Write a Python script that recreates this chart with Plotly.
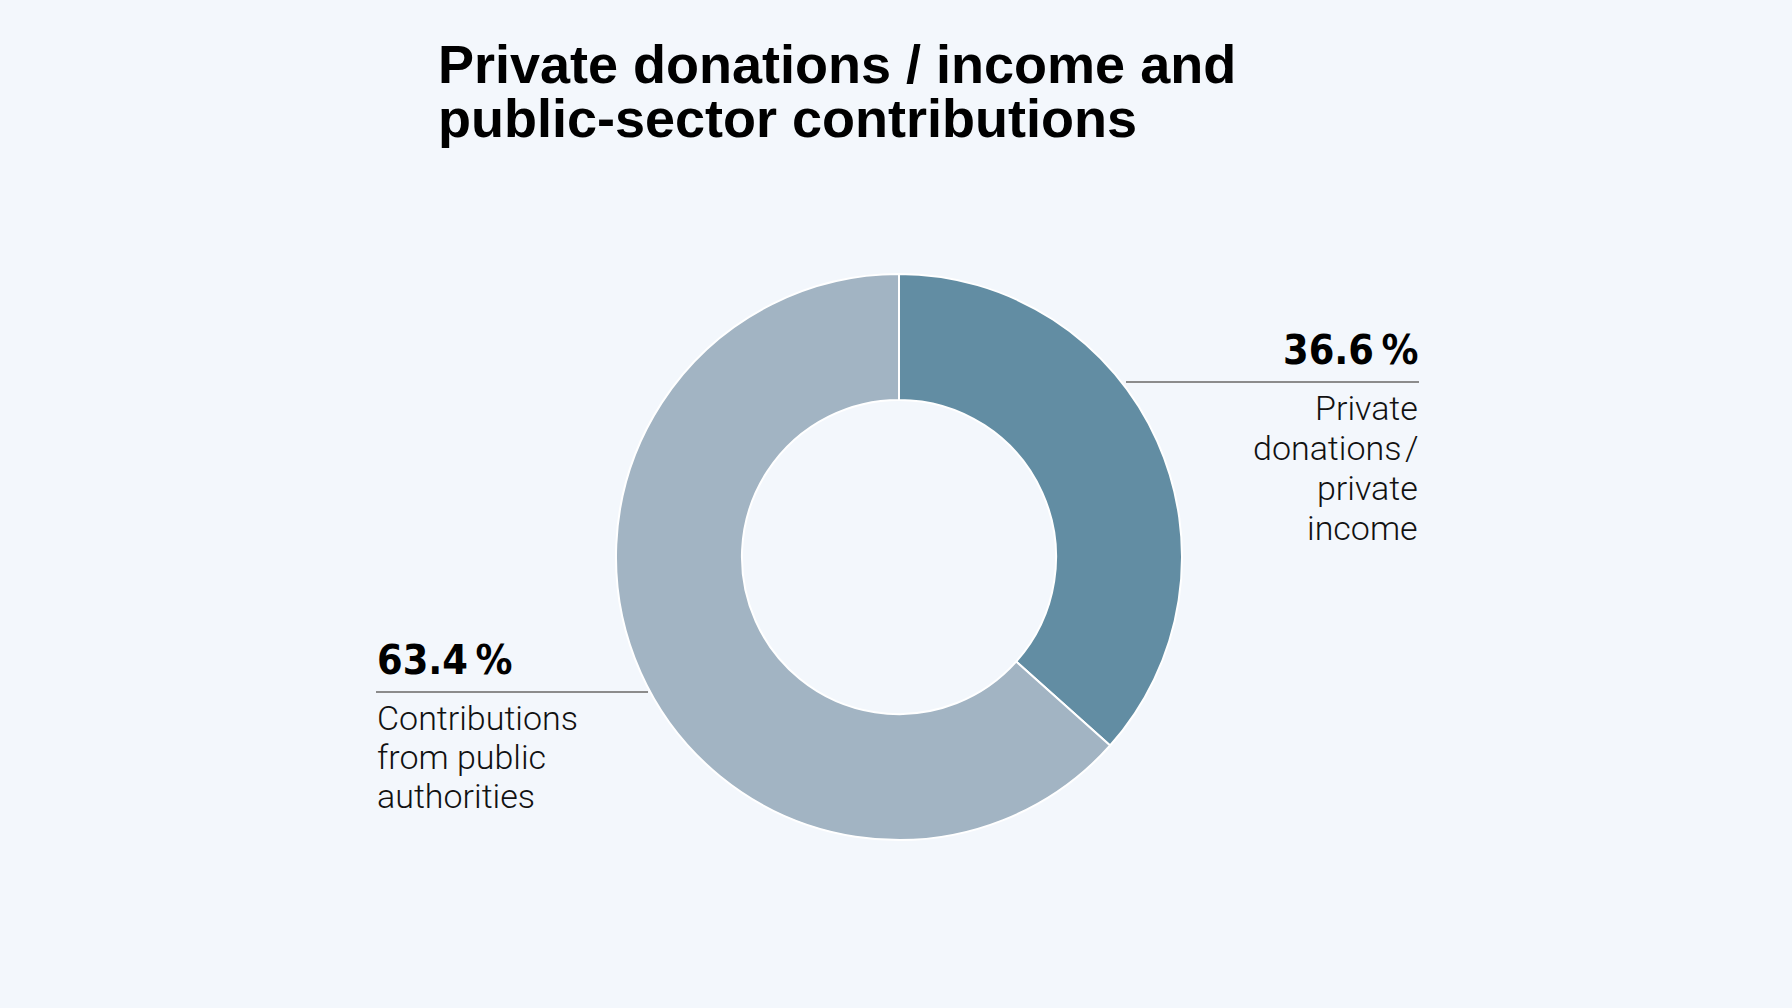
import plotly.graph_objects as go

# ---- data ----
categories = ["Private donations / private income", "Contributions from public authorities"]
shares = [36.6, 63.4]
slice_colors = ["#628DA3", "#A2B4C3"]
title_lines = ["Private donations / income and", "public-sector contributions"]
right_desc = ["Private", "donations\u200a/", "private", "income"]
left_desc = ["Contributions", "from public", "authorities"]

W, H = 1792, 1008
BG = "#F3F7FC"


def px(x):
    return x / W


def py(y):
    return 1 - y / H


cx, cy, r = 899, 557, 283

fig = go.Figure(
    go.Pie(
        labels=categories,
        values=shares,
        sort=False,
        direction="clockwise",
        rotation=0,
        hole=0.555,
        marker=dict(colors=slice_colors, line=dict(color="white", width=2)),
        textinfo="none",
        hoverinfo="skip",
        showlegend=False,
        domain=dict(x=[px(cx - r), px(cx + r)], y=[py(cy + r), py(cy - r)]),
    )
)

annotations = []
TITLE_FONT = dict(family="Liberation Sans, Arial, sans-serif", size=54, color="#000000", weight="bold")
for i, line in enumerate(title_lines):
    base = [83, 137][i]
    annotations.append(dict(text=line, x=px(437), y=py(base - 0.3465 * 54), xref="paper", yref="paper",
                            xanchor="left", yanchor="middle", showarrow=False, borderpad=0, font=TITLE_FONT))

PS = 41
PCT_FONT = dict(family="DejaVu Sans Condensed, Liberation Sans Narrow, Arial Narrow, sans-serif",
                size=PS, color="#000000", weight="bold")
DS = 34
DESC_FONT = dict(family="Roboto, Helvetica Neue, Arial, sans-serif", size=DS, color="#111111", weight=300)

# right block (first slice)
annotations.append(dict(text=f"{shares[0]:.1f}\u2009%", x=px(1419), y=py(365 - 0.36 * PS), xref="paper", yref="paper",
                        xanchor="right", yanchor="middle", showarrow=False, borderpad=0, font=PCT_FONT))
for i, line in enumerate(right_desc):
    base = 420 + 40 * i
    annotations.append(dict(text=line, x=px(1419), y=py(base - 0.342 * DS), xref="paper", yref="paper",
                            xanchor="right", yanchor="middle", showarrow=False, borderpad=0, font=DESC_FONT))

# left block (second slice)
annotations.append(dict(text=f"{shares[1]:.1f}\u2009%", x=px(376), y=py(675 - 0.36 * PS), xref="paper", yref="paper",
                        xanchor="left", yanchor="middle", showarrow=False, borderpad=0, font=PCT_FONT))
for i, line in enumerate(left_desc):
    base = 730 + 39 * i
    annotations.append(dict(text=line, x=px(376), y=py(base - 0.342 * DS), xref="paper", yref="paper",
                            xanchor="left", yanchor="middle", showarrow=False, borderpad=0, font=DESC_FONT))

LINE = dict(color="#8C8C8C", width=2)
shapes = [
    dict(type="line", xref="paper", yref="paper", x0=px(1126), x1=px(1419), y0=py(382), y1=py(382), line=LINE),
    dict(type="line", xref="paper", yref="paper", x0=px(376), x1=px(648), y0=py(692), y1=py(692), line=LINE),
]

fig.update_layout(
    width=W,
    height=H,
    margin=dict(l=0, r=0, t=0, b=0),
    paper_bgcolor=BG,
    plot_bgcolor=BG,
    annotations=annotations,
    shapes=shapes,
)

fig.write_html("out.html", config={"displayModeBar": False})
